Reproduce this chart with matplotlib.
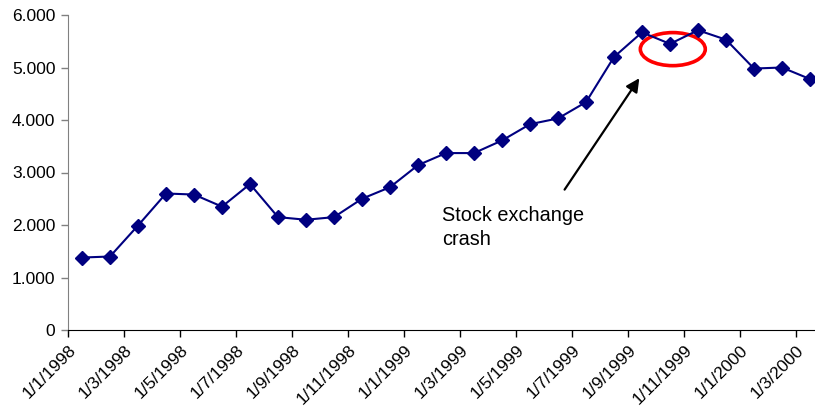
import numpy as np
import matplotlib.pyplot as plt
from matplotlib.patches import Ellipse

plt.rcParams['font.family'] = ['Liberation Sans', 'DejaVu Sans']

# monthly categories
months = ['1/1/1998', '1/2/1998', '1/3/1998', '1/4/1998', '1/5/1998', '1/6/1998',
          '1/7/1998', '1/8/1998', '1/9/1998', '1/10/1998', '1/11/1998', '1/12/1998',
          '1/1/1999', '1/2/1999', '1/3/1999', '1/4/1999', '1/5/1999', '1/6/1999',
          '1/7/1999', '1/8/1999', '1/9/1999', '1/10/1999', '1/11/1999', '1/12/1999',
          '1/1/2000', '1/2/2000', '1/3/2000']
values = [1380, 1400, 1990, 2600, 2580, 2350, 2780, 2150, 2100, 2150, 2500, 2720,
          3140, 3370, 3370, 3610, 3920, 4030, 4340, 5200, 5670, 5450, 5710, 5530,
          4980, 5000, 4780]
y_ticks = [0, 1000, 2000, 3000, 4000, 5000, 6000]
y_labels = ['0', '1.000', '2.000', '3.000', '4.000', '5.000', '6.000']

fig = plt.figure(figsize=(8.15, 4.12), dpi=100)
ax = fig.add_axes([68 / 815, 82 / 412, 756 / 815, 315 / 412])

x = np.arange(len(months))
ax.plot(x, values, color='#000080', lw=1.5, marker='D', markersize=7,
        markerfacecolor='#000080', markeredgecolor='#000080', clip_on=False)

ax.set_xlim(-0.5, len(months) - 0.5)
ax.set_ylim(0, 6000)

# ticks every two months, on category boundaries
ax.set_xticks(x[::2] - 0.5)
ax.set_xticklabels(months[::2], rotation=45, ha='right', rotation_mode='anchor', fontsize=12.5)
ax.set_yticks(y_ticks)
ax.set_yticklabels(y_labels, fontsize=12.5)
ax.tick_params(axis='both', direction='out', length=5, width=1, colors='black', pad=4)
ax.tick_params(axis='y', color='#808080')

ax.spines['top'].set_visible(False)
ax.spines['right'].set_visible(False)
ax.spines['left'].set_color('#808080')
ax.spines['bottom'].set_color('black')

# crash highlight
ax.add_patch(Ellipse((21.1, 5350), 2.32, 630, fill=False, edgecolor='#ff0000', lw=2.6))
ax.annotate('', xy=(19.96, 4840), xytext=(17.18, 2630),
            arrowprops=dict(arrowstyle='-|>', color='black', lw=1.6, mutation_scale=20))
ax.text(12.86, 2360, 'Stock exchange\ncrash', fontsize=14.3, va='top', ha='left',
        linespacing=1.3)

plt.savefig('out.png', dpi=100)
